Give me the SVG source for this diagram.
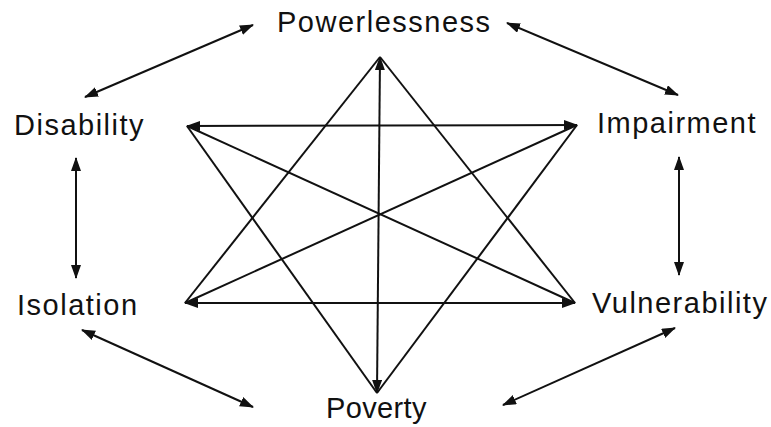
<svg xmlns="http://www.w3.org/2000/svg" width="771" height="427" viewBox="0 0 771 427">
<style>
.lbl{font-family:"Liberation Sans",Arial,sans-serif;font-size:29px;letter-spacing:1.5px;fill:#111}
.ln{stroke:#111;stroke-width:2;fill:none}
.ar{marker-start:url(#ah);marker-end:url(#ah)}
.ae{marker-end:url(#ah)}
</style>
<defs>
<marker id="ah" markerUnits="userSpaceOnUse" markerWidth="14" markerHeight="12" refX="13" refY="5" orient="auto-start-reverse">
<path d="M0,0 L14,5 L0,10 Z" fill="#111"/>
</marker>
</defs>
<rect width="771" height="427" fill="#fff"/>
<g id="connectors">
<line class="ln ar" x1="253" y1="25" x2="85" y2="97"/>
<line class="ln ar" x1="507" y1="23" x2="678" y2="95"/>
<line class="ln ar" x1="76" y1="158" x2="76" y2="278"/>
<line class="ln ar" x1="679" y1="157" x2="679" y2="275"/>
<line class="ln ar" x1="82" y1="330" x2="253" y2="407"/>
<line class="ln ar" x1="675" y1="328" x2="503" y2="405"/>
<line class="ln ar" x1="380" y1="57" x2="377" y2="393"/>
<line class="ln ar" x1="187" y1="126" x2="577" y2="125"/>
<line class="ln ar" x1="185" y1="303" x2="575" y2="303"/>
<line class="ln" x1="380" y1="57" x2="185" y2="303"/>
<line class="ln" x1="380" y1="57" x2="575" y2="303"/>
<line class="ln" x1="377" y1="393" x2="187" y2="126"/>
<line class="ln" x1="377" y1="393" x2="577" y2="125"/>
<line class="ln" x1="187" y1="126" x2="575" y2="303"/>
<line class="ln" x1="185" y1="303" x2="577" y2="125"/>
</g>
<g id="powerlessness"><text class="lbl" x="277" y="32">Powerlessness</text></g>
<g id="disability"><text class="lbl" x="14" y="135">Disability</text></g>
<g id="impairment"><text class="lbl" x="597" y="133">Impairment</text></g>
<g id="isolation"><text class="lbl" x="17" y="315">Isolation</text></g>
<g id="vulnerability"><text class="lbl" x="592" y="313">Vulnerability</text></g>
<g id="poverty"><text class="lbl" x="326" y="418" textLength="102">Poverty</text></g>
</svg>
